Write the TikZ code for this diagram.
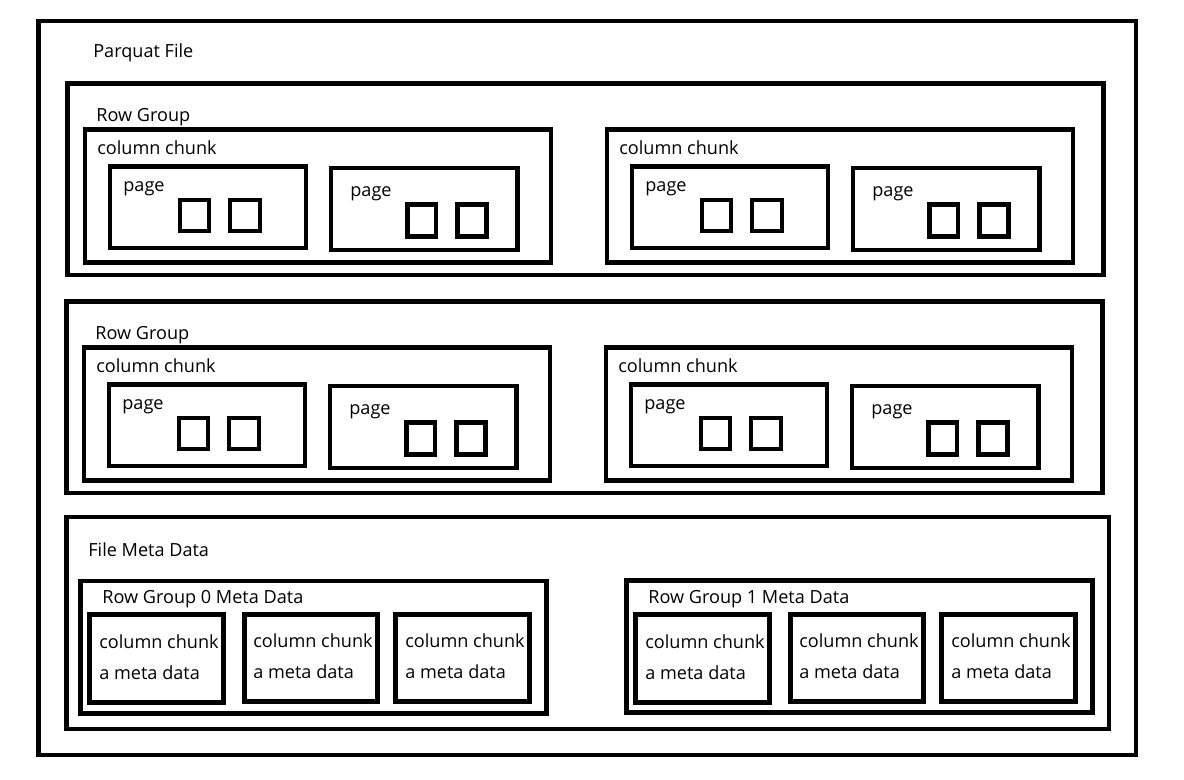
\documentclass[tikz,border=0pt]{standalone}
\usepackage{fontspec}
\setmainfont{Open Sans}
\usepackage{tikz}
\usetikzlibrary{positioning}

\tikzset{
  box/.style={line width=2.5pt},
  lbl/.style={anchor=base west, inner sep=0pt}
}

\begin{document}
\begin{tikzpicture}[font=\fontsize{10.3pt}{12pt}\selectfont]
      \useasboundingbox (0,0) rectangle (23.68,15.6);
      \draw[box] (0.77,0.50) rectangle (22.72,15.18);
      \node[lbl] (file) at (1.86,14.44) {Parquat File};

      % first row group
      \draw[box] (1.35,10.10) rectangle (22.07,13.93);
      \node[lbl] (rg1) at (1.92,13.16) {Row Group};
      \draw[box] (1.70,10.35) rectangle (11.02,13.01);
      \node[lbl] (cc11) at (1.94,12.50) {column chunk};
      \draw[box] (2.20,10.64) rectangle (6.12,12.27);
      \node[lbl] (pg111) at (2.46,11.76) {page};
      \draw[box] (3.60,10.98) rectangle (4.18,11.60);
      \draw[box] (4.60,10.98) rectangle (5.20,11.60);
      \draw[box] (6.62,10.60) rectangle (10.35,12.24);
      \node[lbl] (pg112) at (7.00,11.66) {page};
      \draw[box] (8.15,10.87) rectangle (8.72,11.51);
      \draw[box] (9.15,10.87) rectangle (9.73,11.51);

      \draw[box,xshift=10.44cm] (1.70,10.35) rectangle (11.02,13.01);
      \node[lbl,xshift=10.44cm] (cc12) at (1.94,12.50) {column chunk};
      \draw[box,xshift=10.44cm] (2.20,10.64) rectangle (6.12,12.27);
      \node[lbl,xshift=10.44cm] (pg121) at (2.46,11.76) {page};
      \draw[box,xshift=10.44cm] (3.60,10.98) rectangle (4.18,11.60);
      \draw[box,xshift=10.44cm] (4.60,10.98) rectangle (5.20,11.60);
      \draw[box,xshift=10.44cm] (6.62,10.60) rectangle (10.35,12.24);
      \node[lbl,xshift=10.44cm] (pg122) at (7.00,11.66) {page};
      \draw[box,xshift=10.44cm] (8.15,10.87) rectangle (8.72,11.51);
      \draw[box,xshift=10.44cm] (9.15,10.87) rectangle (9.73,11.51);

      % second row group
      \draw[box,xshift=-0.02cm,yshift=-4.36cm] (1.35,10.10) rectangle (22.07,13.93);
      \node[lbl,xshift=-0.02cm,yshift=-4.36cm] (rg2) at (1.92,13.16) {Row Group};
      \draw[box,xshift=-0.02cm,yshift=-4.36cm] (1.70,10.35) rectangle (11.02,13.01);
      \node[lbl,xshift=-0.02cm,yshift=-4.36cm] (cc21) at (1.94,12.50) {column chunk};
      \draw[box,xshift=-0.02cm,yshift=-4.36cm] (2.20,10.64) rectangle (6.12,12.27);
      \node[lbl,xshift=-0.02cm,yshift=-4.36cm] (pg211) at (2.46,11.76) {page};
      \draw[box,xshift=-0.02cm,yshift=-4.36cm] (3.60,10.98) rectangle (4.18,11.60);
      \draw[box,xshift=-0.02cm,yshift=-4.36cm] (4.60,10.98) rectangle (5.20,11.60);
      \draw[box,xshift=-0.02cm,yshift=-4.36cm] (6.62,10.60) rectangle (10.35,12.24);
      \node[lbl,xshift=-0.02cm,yshift=-4.36cm] (pg212) at (7.00,11.66) {page};
      \draw[box,xshift=-0.02cm,yshift=-4.36cm] (8.15,10.87) rectangle (8.72,11.51);
      \draw[box,xshift=-0.02cm,yshift=-4.36cm] (9.15,10.87) rectangle (9.73,11.51);

      \draw[box,xshift=10.42cm,yshift=-4.36cm] (1.70,10.35) rectangle (11.02,13.01);
      \node[lbl,xshift=10.42cm,yshift=-4.36cm] (cc22) at (1.94,12.50) {column chunk};
      \draw[box,xshift=10.42cm,yshift=-4.36cm] (2.20,10.64) rectangle (6.12,12.27);
      \node[lbl,xshift=10.42cm,yshift=-4.36cm] (pg221) at (2.46,11.76) {page};
      \draw[box,xshift=10.42cm,yshift=-4.36cm] (3.60,10.98) rectangle (4.18,11.60);
      \draw[box,xshift=10.42cm,yshift=-4.36cm] (4.60,10.98) rectangle (5.20,11.60);
      \draw[box,xshift=10.42cm,yshift=-4.36cm] (6.62,10.60) rectangle (10.35,12.24);
      \node[lbl,xshift=10.42cm,yshift=-4.36cm] (pg222) at (7.00,11.66) {page};
      \draw[box,xshift=10.42cm,yshift=-4.36cm] (8.15,10.87) rectangle (8.72,11.51);
      \draw[box,xshift=10.42cm,yshift=-4.36cm] (9.15,10.87) rectangle (9.73,11.51);

      % file meta data
      \draw[box] (1.33,1.02) rectangle (22.18,5.26);
      \node[lbl] (meta) at (1.76,4.46) {File Meta Data};
      \draw[box] (1.61,1.33) rectangle (10.93,3.98);
      \node[lbl] (rgm0) at (2.04,3.52) {Row Group 0 Meta Data};
      \draw[box] (1.79,1.55) rectangle (4.47,3.31);
      \node[lbl] (ccm01) at (1.98,2.62) {column chunk};
      \node[lbl] (am01) at (1.98,2.01) {a meta data};
      \draw[box] (4.89,1.57) rectangle (7.55,3.31);
      \node[lbl] (ccm02) at (5.06,2.64) {column chunk};
      \node[lbl] (am02) at (5.06,2.03) {a meta data};
      \draw[box] (7.91,1.57) rectangle (10.59,3.31);
      \node[lbl] (ccm03) at (8.10,2.64) {column chunk};
      \node[lbl] (am03) at (8.10,2.03) {a meta data};

      \draw[box,xshift=10.92cm] (1.61,1.35) rectangle (10.93,3.99);
      \node[lbl,xshift=10.92cm] (rgm1) at (2.04,3.52) {Row Group 1 Meta Data};
      \draw[box,xshift=10.92cm] (1.79,1.55) rectangle (4.47,3.31);
      \node[lbl,xshift=10.92cm] (ccm11) at (1.98,2.62) {column chunk};
      \node[lbl,xshift=10.92cm] (am11) at (1.98,2.01) {a meta data};
      \draw[box,xshift=10.92cm] (4.89,1.57) rectangle (7.55,3.31);
      \node[lbl,xshift=10.92cm] (ccm12) at (5.06,2.64) {column chunk};
      \node[lbl,xshift=10.92cm] (am12) at (5.06,2.03) {a meta data};
      \draw[box,xshift=10.92cm] (7.91,1.57) rectangle (10.59,3.31);
      \node[lbl,xshift=10.92cm] (ccm13) at (8.10,2.64) {column chunk};
      \node[lbl,xshift=10.92cm] (am13) at (8.10,2.03) {a meta data};
     \end{tikzpicture}
\end{document}
